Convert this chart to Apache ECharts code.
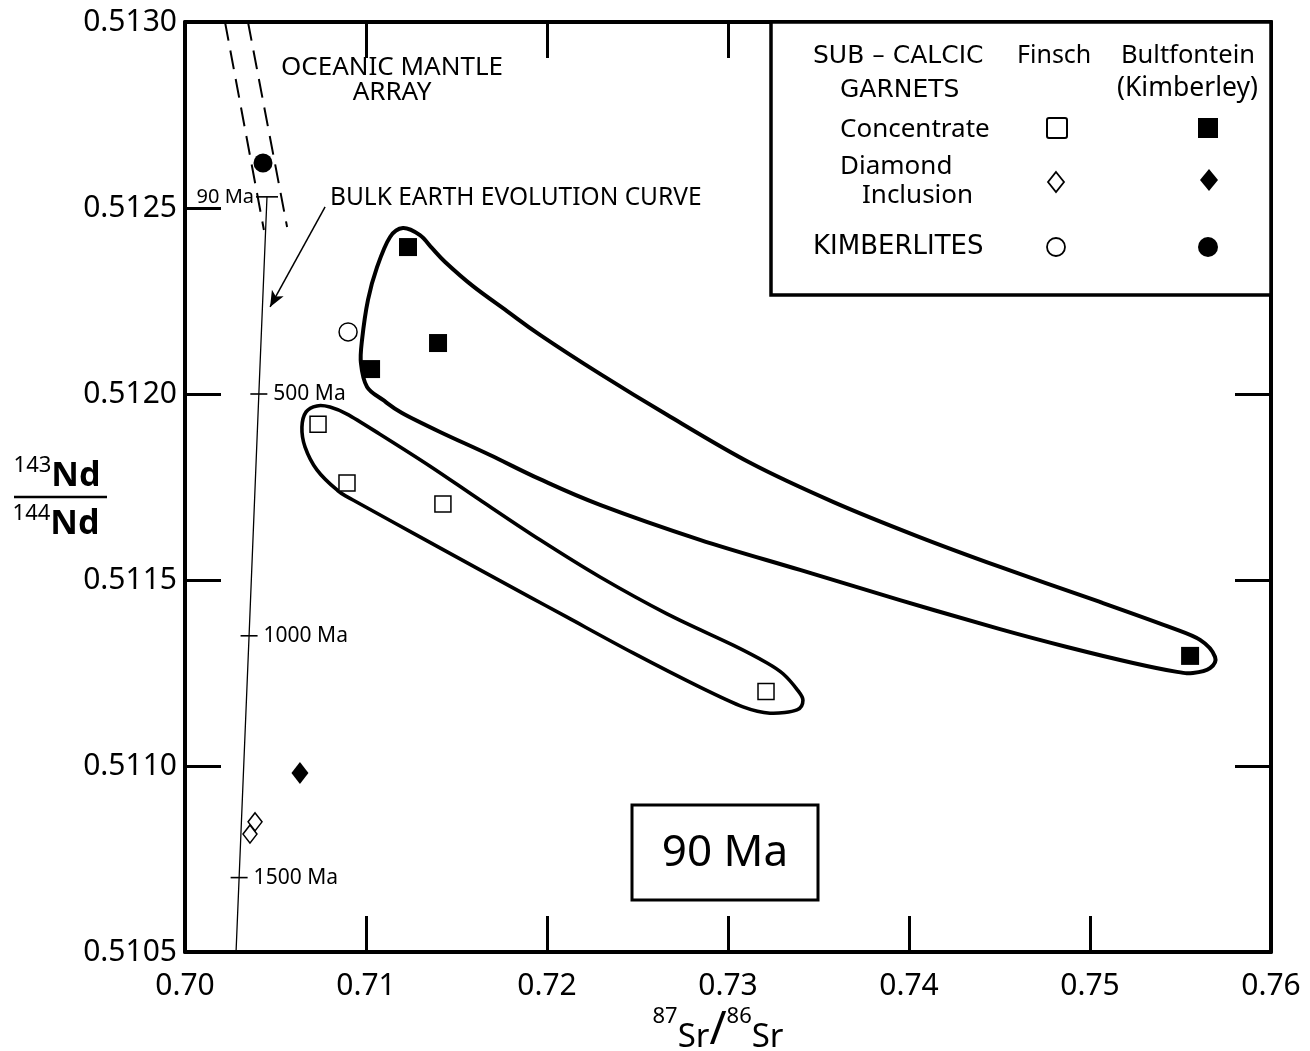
<!DOCTYPE html>
<html>
<head>
<meta charset="utf-8">
<script src="https://cdn.jsdelivr.net/npm/echarts@6/dist/echarts.min.js"></script>
<style>
  html, body { margin: 0; padding: 0; background: #fff; }
  #chart { width: 1310px; height: 1051px; }
</style>
</head>
<body>
<div id="chart"></div>
<script>
// ---- axis ticks ----
const xMin = 0.70, xMax = 0.76, xStep = 0.01;
const yMin = 0.5105, yMax = 0.5130, yStep = 0.0005;
const xTickLabels = ['0.70', '0.71', '0.72', '0.73', '0.74', '0.75', '0.76'];
const yTickLabels = ['0.5105', '0.5110', '0.5115', '0.5120', '0.5125', '0.5130'];

// ---- sub-calcic garnets, 87Sr/86Sr vs 143Nd/144Nd, age-corrected to 90 Ma ----
const finschConcentrate = [[0.70735, 0.511919], [0.70895, 0.511761], [0.71425, 0.511704], [0.73210, 0.511200]];
const bultfonteinConcentrate = [[0.71232, 0.512395], [0.71398, 0.512137], [0.71028, 0.512067], [0.75553, 0.511296]];
const finschDiamondInclusion = [[0.70387, 0.510850], [0.70359, 0.510817]];
const bultfonteinDiamondInclusion = [[0.70635, 0.510981]];
const finschKimberlite = [[0.70901, 0.512167]];
const bultfonteinKimberlite = [[0.70431, 0.512621]];

// ---- reference curves ----
const bulkEarthCurve = [[0.70453, 0.51253], [0.70408, 0.51200], [0.70354, 0.51135], [0.70299, 0.51070], [0.70282, 0.51050]];
const ageMarks = [[0.70453, 0.51253], [0.70408, 0.51200], [0.70354, 0.51135], [0.70299, 0.51070]];
const ageLabels = ['90 Ma', '500 Ma', '1000 Ma', '1500 Ma'];
const mantleArrayLeft = [[0.70221, 0.51300], [0.70436, 0.512441]];
const mantleArrayRight = [[0.70348, 0.51300], [0.70564, 0.512449]];
const arrowFrom = [0.70774, 0.512503];
const arrowTo = [0.70470, 0.512234];

// ---- field outlines ----
const bultfonteinField = [
  [0.71204, 0.512446], [0.71298, 0.512427], [0.71365, 0.512392], [0.71437, 0.512355],
  [0.71591, 0.512290], [0.71779, 0.512223], [0.71961, 0.512159], [0.72293, 0.512054],
  [0.72663, 0.511944], [0.73122, 0.511815], [0.73580, 0.511710], [0.74044, 0.511618],
  [0.74503, 0.511535], [0.75055, 0.511441], [0.75426, 0.511376], [0.75608, 0.511339],
  [0.75691, 0.511293], [0.75663, 0.511263], [0.75569, 0.511250], [0.75481, 0.511253],
  [0.75238, 0.511277], [0.74873, 0.511320], [0.74503, 0.511368], [0.73950, 0.511446],
  [0.73398, 0.511527], [0.72845, 0.511608], [0.72293, 0.511702], [0.71961, 0.511771],
  [0.71685, 0.511836], [0.71409, 0.511898], [0.71199, 0.511949], [0.71094, 0.511984],
  [0.71006, 0.512019], [0.70972, 0.512083], [0.70978, 0.512145], [0.71011, 0.512253],
  [0.71061, 0.512341], [0.71133, 0.512422]
];
const finschField = [
  [0.70729, 0.511968], [0.70801, 0.511965], [0.70895, 0.511946], [0.71077, 0.511892],
  [0.71354, 0.511806], [0.71630, 0.511715], [0.71961, 0.511608], [0.72293, 0.511508],
  [0.72663, 0.511409], [0.73028, 0.511325], [0.73216, 0.511277], [0.73304, 0.511248],
  [0.73381, 0.511206], [0.73414, 0.511177], [0.73381, 0.511151], [0.73232, 0.511142],
  [0.73083, 0.511159], [0.72845, 0.511212], [0.72475, 0.511304], [0.72111, 0.511400],
  [0.71906, 0.511454], [0.71630, 0.511527], [0.71260, 0.511626], [0.70928, 0.511715],
  [0.70840, 0.511742], [0.70729, 0.511796], [0.70663, 0.511858], [0.70646, 0.511911],
  [0.70669, 0.511952]
];

const FONT = '"Noto Sans", "DejaVu Sans", sans-serif';
const CAPS = '"DejaVu Sans", "Noto Sans", sans-serif';
const INK = '#000';

function closedCurvePath(pts) {
  const n = pts.length;
  let d = 'M' + pts[0][0] + ' ' + pts[0][1];
  for (let i = 0; i < n; i++) {
    const p0 = pts[(i - 1 + n) % n], p1 = pts[i], p2 = pts[(i + 1) % n], p3 = pts[(i + 2) % n];
    const c1x = p1[0] + (p2[0] - p0[0]) / 6, c1y = p1[1] + (p2[1] - p0[1]) / 6;
    const c2x = p2[0] - (p3[0] - p1[0]) / 6, c2y = p2[1] - (p3[1] - p1[1]) / 6;
    d += 'C' + c1x + ' ' + c1y + ' ' + c2x + ' ' + c2y + ' ' + p2[0] + ' ' + p2[1];
  }
  return d + 'Z';
}

function fieldOutline(points, width) {
  return {
    type: 'custom',
    coordinateSystem: 'cartesian2d',
    silent: true,
    z: 2,
    data: [points[0]],
    renderItem: function (params, api) {
      const px = points.map(function (p) { return api.coord(p); });
      return {
        type: 'path',
        shape: { pathData: closedCurvePath(px) },
        style: { fill: 'none', stroke: INK, lineWidth: width, lineJoin: 'round' }
      };
    }
  };
}

function frameAxis(position, showLabels, labels, lo, step) {
  const horizontal = position === 'bottom' || position === 'top';
  return {
    type: 'value',
    position: position,
    min: horizontal ? xMin : yMin,
    max: horizontal ? xMax : yMax,
    interval: horizontal ? xStep : yStep,
    axisLine: { show: true, onZero: false, lineStyle: { color: INK, width: 4 } },
    axisTick: { show: true, inside: true, length: 36, lineStyle: { color: INK, width: 3 } },
    axisLabel: {
      show: showLabels,
      color: INK,
      fontFamily: FONT,
      fontSize: 30,
      margin: position === 'left' ? 8 : 19,
      formatter: function (v) { return labels ? labels[Math.round((v - lo) / step)] : ''; }
    },
    splitLine: { show: false }
  };
}

const xBottom = frameAxis('bottom', true, xTickLabels, xMin, xStep);
xBottom.name = '{sup|87}{main|Sr}{slash|/}{sup|86}{main|Sr}';
xBottom.nameLocation = 'middle';
xBottom.nameGap = 45;
xBottom.nameTextStyle = {
  padding: [0, 20, 0, 0],
  rich: {
    sup: { fontSize: 22, fontFamily: FONT, color: INK, verticalAlign: 'top', lineHeight: 48 },
    main: { fontSize: 33, fontFamily: FONT, color: INK, verticalAlign: 'bottom', lineHeight: 48 },
    slash: { fontSize: 46, fontFamily: FONT, color: INK, verticalAlign: 'bottom', lineHeight: 48 }
  }
};

const fracRich = {
  sup: { fontSize: 22, fontFamily: FONT, fill: INK, verticalAlign: 'top', lineHeight: 38 },
  nd: { fontSize: 34, fontFamily: FONT, fill: INK, fontWeight: 'bold', verticalAlign: 'bottom', lineHeight: 38 }
};

const chart = echarts.init(document.getElementById('chart'), null, { renderer: 'canvas' });
chart.setOption({
  backgroundColor: '#fff',
  animation: false,
  grid: { left: 185, right: 39, top: 22, bottom: 99, containLabel: false, outerBoundsMode: 'none' },
  xAxis: [xBottom, frameAxis('top', false)],
  yAxis: [frameAxis('left', true, yTickLabels, yMin, yStep), frameAxis('right', false)],
  series: [
    fieldOutline(bultfonteinField, 4),
    fieldOutline(finschField, 3.6),
    {
      type: 'line', data: bulkEarthCurve, symbol: 'none', silent: true, z: 3,
      lineStyle: { color: INK, width: 1.3 }
    },
    {
      type: 'line', data: mantleArrayLeft, symbol: 'none', silent: true, z: 3,
      lineStyle: { color: INK, width: 2, type: [19, 10] }
    },
    {
      type: 'line', data: mantleArrayRight, symbol: 'none', silent: true, z: 3,
      lineStyle: { color: INK, width: 2, type: [19, 10] }
    },
    {
      type: 'scatter', data: ageMarks, silent: true, z: 4,
      symbol: 'rect',
      symbolSize: function (v, p) { return p.dataIndex === 0 ? [22, 1.6] : [17, 1.6]; },
      itemStyle: { color: INK, opacity: 1 },
      label: {
        show: true,
        position: 'right',
        distance: 6,
        color: INK,
        fontFamily: FONT,
        fontSize: 21,
        formatter: function (p) { return ageLabels[p.dataIndex]; }
      },
      labelLayout: function (p) {
        if (p.dataIndex === 0) {
          return { x: p.rect.x - 2, y: p.rect.y + p.rect.height / 2, align: 'right', verticalAlign: 'middle', fontSize: 20 };
        }
        return {};
      }
    },
    {
      type: 'line', data: [], silent: true, z: 4,
      markLine: {
        silent: true,
        symbol: ['none', 'arrow'],
        symbolSize: [10, 16],
        label: { show: false },
        lineStyle: { color: INK, width: 1.5, type: 'solid' },
        data: [[{ coord: arrowFrom }, { coord: arrowTo }]]
      }
    },
    {
      name: 'Finsch concentrate', type: 'scatter', data: finschConcentrate, z: 6,
      symbol: 'rect', symbolSize: 16,
      itemStyle: { color: '#fff', borderColor: INK, borderWidth: 1.5, opacity: 1 }
    },
    {
      name: 'Bultfontein concentrate', type: 'scatter', data: bultfonteinConcentrate, z: 6,
      symbol: 'rect', symbolSize: 18,
      itemStyle: { color: INK, opacity: 1 }
    },
    {
      name: 'Finsch diamond inclusion', type: 'scatter', data: finschDiamondInclusion, z: 6,
      symbol: 'diamond', symbolSize: [14, 18],
      itemStyle: { color: '#fff', borderColor: INK, borderWidth: 1.5, opacity: 1 }
    },
    {
      name: 'Bultfontein diamond inclusion', type: 'scatter', data: bultfonteinDiamondInclusion, z: 6,
      symbol: 'diamond', symbolSize: [17, 22],
      itemStyle: { color: INK, opacity: 1 }
    },
    {
      name: 'Finsch kimberlite', type: 'scatter', data: finschKimberlite, z: 6,
      symbol: 'circle', symbolSize: 18,
      itemStyle: { color: '#fff', borderColor: INK, borderWidth: 1.5, opacity: 1 }
    },
    {
      name: 'Bultfontein kimberlite', type: 'scatter', data: bultfonteinKimberlite, z: 6,
      symbol: 'circle', symbolSize: 19,
      itemStyle: { color: INK, opacity: 1 }
    }
  ],
  graphic: [
    // y-axis title as a stacked ratio
    {
      type: 'text', z: 50, x: 57, y: 493,
      style: { text: '{sup|143}{nd|Nd}', rich: fracRich, align: 'center', verticalAlign: 'bottom' }
    },
    {
      type: 'line', z: 50,
      shape: { x1: 14, y1: 497, x2: 107, y2: 497 },
      style: { stroke: INK, lineWidth: 2.5 }
    },
    {
      type: 'text', z: 50, x: 56, y: 503,
      style: { text: '{sup|144}{nd|Nd}', rich: fracRich, align: 'center', verticalAlign: 'top' }
    },
    // curve annotations
    {
      type: 'text', z: 50, x: 392, y: 80,
      style: {
        text: 'OCEANIC MANTLE\nARRAY', fill: INK, font: '26px ' + FONT,
        align: 'center', verticalAlign: 'middle', lineHeight: 25
      }
    },
    {
      type: 'text', z: 50, x: 330, y: 198,
      style: {
        text: 'BULK EARTH EVOLUTION CURVE', fill: INK, font: '24.5px ' + FONT,
        align: 'left', verticalAlign: 'middle'
      }
    },
    // age box
    {
      type: 'rect', z: 50,
      shape: { x: 632, y: 805, width: 186, height: 95 },
      style: { fill: '#fff', stroke: INK, lineWidth: 3 }
    },
    {
      type: 'text', z: 51, x: 725, y: 853,
      style: { text: '90 Ma', fill: INK, font: '44px ' + FONT, align: 'center', verticalAlign: 'middle' }
    },
    // key
    {
      type: 'rect', z: 60,
      shape: { x: 771, y: 22, width: 500, height: 273 },
      style: { fill: '#fff', stroke: INK, lineWidth: 3.5 }
    },
    { type: 'text', z: 61, x: 813, y: 56, style: { text: 'SUB – CALCIC', fill: INK, font: '25px ' + CAPS, verticalAlign: 'middle' } },
    { type: 'text', z: 61, x: 840, y: 90, style: { text: 'GARNETS', fill: INK, font: '25px ' + CAPS, verticalAlign: 'middle' } },
    { type: 'text', z: 61, x: 1017, y: 56, style: { text: 'Finsch', fill: INK, font: '25px ' + FONT, verticalAlign: 'middle' } },
    { type: 'text', z: 61, x: 1121, y: 56, style: { text: 'Bultfontein', fill: INK, font: '25.5px ' + FONT, verticalAlign: 'middle' } },
    { type: 'text', z: 61, x: 1117, y: 88, style: { text: '(Kimberley)', fill: INK, font: '26.5px ' + FONT, verticalAlign: 'middle' } },
    { type: 'text', z: 61, x: 840, y: 130, style: { text: 'Concentrate', fill: INK, font: '26px ' + FONT, verticalAlign: 'middle' } },
    { type: 'text', z: 61, x: 840, y: 167, style: { text: 'Diamond', fill: INK, font: '26px ' + FONT, verticalAlign: 'middle' } },
    { type: 'text', z: 61, x: 862, y: 196, style: { text: 'Inclusion', fill: INK, font: '26px ' + FONT, verticalAlign: 'middle' } },
    { type: 'text', z: 61, x: 813, y: 247, style: { text: 'KIMBERLITES', fill: INK, font: '26px ' + CAPS, verticalAlign: 'middle' } },
    { type: 'rect', z: 61, shape: { x: 1047, y: 118, width: 20, height: 20, r: 2 }, style: { fill: '#fff', stroke: INK, lineWidth: 2 } },
    { type: 'rect', z: 61, shape: { x: 1198, y: 118, width: 20, height: 20 }, style: { fill: INK } },
    { type: 'polygon', z: 61, shape: { points: [[1056, 172], [1064, 182], [1056, 192], [1048, 182]] }, style: { fill: '#fff', stroke: INK, lineWidth: 1.8 } },
    { type: 'polygon', z: 61, shape: { points: [[1209, 169], [1218, 180], [1209, 191], [1200, 180]] }, style: { fill: INK } },
    { type: 'circle', z: 61, shape: { cx: 1056, cy: 247, r: 9 }, style: { fill: '#fff', stroke: INK, lineWidth: 1.8 } },
    { type: 'circle', z: 61, shape: { cx: 1208, cy: 247, r: 10 }, style: { fill: INK } }
  ]
});
</script>
</body>
</html>
